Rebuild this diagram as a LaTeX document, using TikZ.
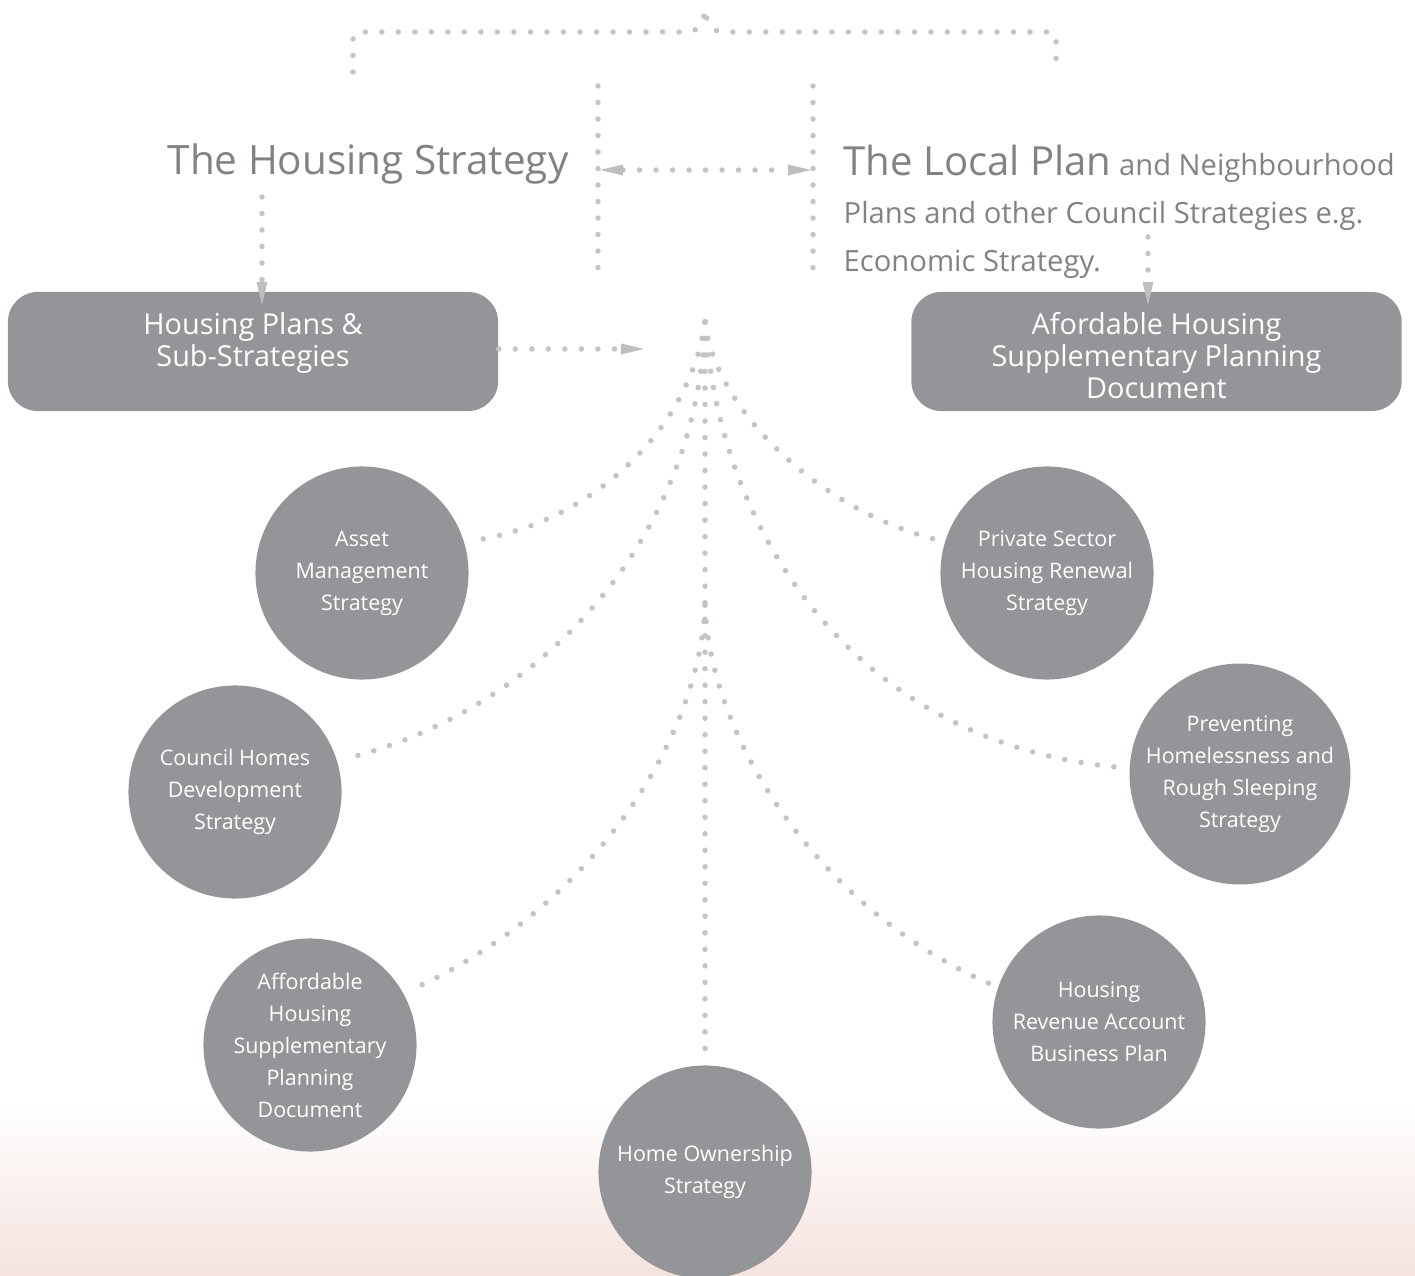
\documentclass[tikz,border=0pt]{standalone}
\usepackage{fontspec}
\setmainfont{Open Sans}
\usetikzlibrary{arrows.meta,positioning}
\definecolor{boxgrey}{HTML}{939598}
\definecolor{dotgrey}{HTML}{C2C4C7}
\definecolor{tipgrey}{HTML}{BCBEC0}
\definecolor{titlegrey}{HTML}{808285}
\definecolor{blush}{RGB}{244,227,223}

\begin{document}
\begin{tikzpicture}[x=0.01cm,y=-0.01cm,
    dots/.style={dotgrey, line width=0.055cm, line cap=round, dash pattern=on 0pt off 0.165cm},
    tip/.style={-{Triangle[length=0.23cm,width=0.11cm,line width=0pt,color=tipgrey]}},
    twotips/.style={{Triangle[length=0.23cm,width=0.11cm,line width=0pt,color=tipgrey]}-{Triangle[length=0.23cm,width=0.11cm,line width=0pt,color=tipgrey]}},
    panel/.style={fill=boxgrey, rounded corners=0.3cm, minimum width=4.9cm, minimum height=1.19cm, inner sep=0pt},
    paneltext/.style={text=white, align=center, inner sep=0pt, font=\fontsize{8.2}{9.1}\selectfont},
    bubble/.style={circle, fill=boxgrey, minimum size=2.13cm, inner sep=0pt,
        text=white, align=center, font=\fontsize{6.1}{9.1}\selectfont},
    title/.style={text=titlegrey, inner sep=0pt}]
    \useasboundingbox (0,0) rectangle (1415,1276);

    % Background fade
    \shade[top color=white, bottom color=blush] (0,1100) rectangle (1415,1276);

    % Bracket on top
    \draw[dots] (353,72) -- (353,40) .. controls (353,34) .. (361,32) -- (688,32)
        .. controls (700,31) and (704,20) .. (705,9)
        .. controls (706,20) and (710,31) .. (722,32) -- (1048,32)
        .. controls (1056,34) .. (1056,40) -- (1056,72);

    % Posts and the two-way link
    \coordinate (lpostT) at (598,86);
    \coordinate (lpostB) at (598,276);
    \coordinate (rpostT) at (813,86);
    \coordinate (rpostB) at (813,276);
    \draw[dots] (lpostT) -- (lpostB);
    \draw[dots] (rpostT) -- (rpostB);
    \coordinate (linkL) at (600,170);
    \coordinate (linkR) at (811,170);
    \draw[dots, twotips] (linkL) -- (linkR);

    % Titles
    \node[title, anchor=base west, font=\fontsize{11.5}{14}\selectfont] (hstrat) at (167,175) {The Housing Strategy};
    \node[title, anchor=north west, align=left, font=\fontsize{8.3}{13.66}\selectfont] (lplan) at (843,144)
        {{\fontsize{11.4}{13.66}\selectfont The Local Plan} and Neighbourhood\\Plans and other Council Strategies e.g.\\Economic Strategy.};

    % Boxes
    \node[panel] (plans) at (253,351.5) {};
    \node[paneltext] (plansText) at (253,343) {Housing Plans \&\\Sub-Strategies};
    \node[panel] (spd) at (1156.5,351.5) {};
    \node[paneltext] (spdText) at (1156.5,356) {Afordable Housing\\Supplementary Planning\\Document};

    \coordinate (hsFoot) at (262,197);
    \coordinate (hsHead) at (262,305);
    \draw[dots, tip] (hsFoot) -- (hsHead);
    \coordinate (lpFoot) at (1148,237);
    \coordinate (lpHead) at (1148,305);
    \draw[dots, tip] (lpFoot) -- (lpHead);
    \coordinate (plansOut) at (644,349);
    \draw[dots, tip] (plans.east |- plansOut) -- (plansOut);

    % Strategy bubbles
    \node[bubble] (asset) at (362,573) {Asset\\Management\\Strategy};
    \node[bubble] (council) at (235,792) {Council Homes\\Development\\Strategy};
    \node[bubble] (afford) at (310,1045) {Affordable\\Housing\\Supplementary\\Planning\\Document};
    \node[bubble] (homeown) at (705,1172) {Home Ownership\\Strategy};
    \node[bubble] (revenue) at (1099,1022) {Housing\\Revenue Account\\Business Plan};
    \node[bubble] (prevent) at (1240,774) {Preventing\\Homelessness and\\Rough Sleeping\\Strategy};
    \node[bubble] (private) at (1047,573) {Private Sector\\Housing Renewal\\Strategy};

    % Fan of links
    \coordinate (hub) at (705,322);
    \coordinate (hubb) at (705,605);
    \draw[dots, shorten >=0.06cm] (hub) .. controls (690,430) and (590,525) .. (asset.17);
    \draw[dots, shorten >=0.1cm] (hub) .. controls (698,540) and (540,710) .. (council.17);
    \draw[dots, shorten >=0.1cm] (hub) .. controls (715,410) and (820,510) .. (private.163);
    \draw[dots, shorten >=0.08cm] (hub) .. controls (720,540) and (860,745) .. (prevent.177);
    \draw[dots, shorten >=0.05cm] (hub) -- (homeown.north);
    \draw[dots, shorten >=0.08cm] (hubb) .. controls (700,740) and (590,910) .. (afford.29);
    \draw[dots, shorten >=0.08cm] (hubb) .. controls (710,740) and (820,910) .. (revenue.161);
\end{tikzpicture}
\end{document}
